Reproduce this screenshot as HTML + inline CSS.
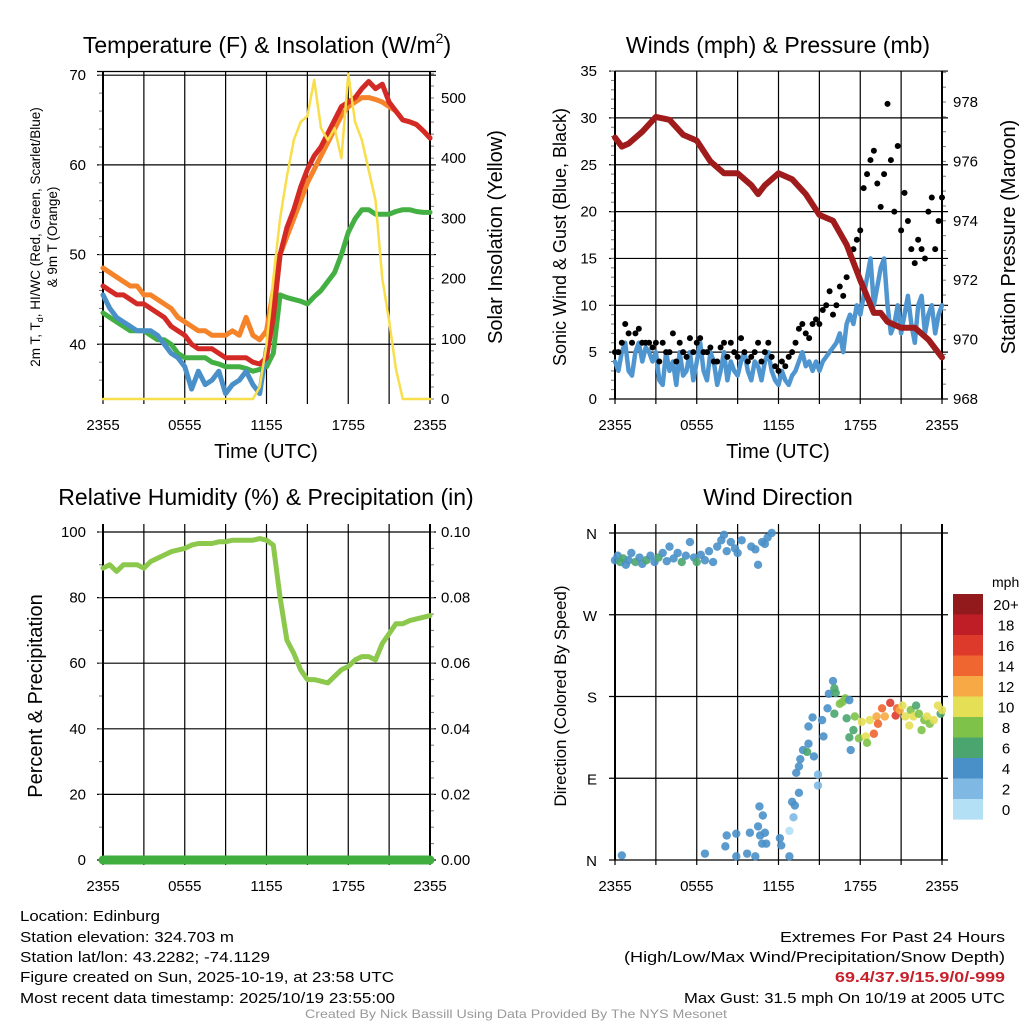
<!DOCTYPE html>
<html><head><meta charset="utf-8"><style>
html,body{margin:0;padding:0;background:#fff;}
svg{display:block;font-family:"Liberation Sans",sans-serif;}
</style></head><body>
<svg id="chart" width="1024" height="1024" viewBox="0 0 1024 1024" xmlns="http://www.w3.org/2000/svg"></svg>
<script>
// ---------- data ----------
const xTickLabels = ["2355","0555","1155","1755","2355"];
const tHours = [0,0.5,1,1.5,2,2.5,3,3.5,4,4.5,5,5.5,6,6.5,7,7.5,8,8.5,9,9.5,10,10.5,11,11.5,12,12.5,13,13.5,14,14.5,15,15.5,16,16.5,17,17.5,18,18.5,19,19.5,20,20.5,21,21.5,22,22.5,23,23.5,24];
const tempRed = [46.5,46,45.5,45.5,45,44.5,44.5,44,43.5,43,42,41.5,41,40,39.5,39.5,39.5,39,38.5,38.5,38.5,38.5,38,37.8,38.5,43,50,53,55,57.5,59.5,61,62,63.5,65,66.5,67,67.5,68.5,69.3,68.5,69,67,66,65,64.8,64.5,63.8,63];
const temp9m = [48.5,48,47.5,47,46.5,46.5,45.5,45.5,45,44.5,44,43,42.5,42,41.5,41.5,41,41,41,41.5,41,43,41,40.5,41.5,46,50,52,54,56,58,59.5,61,62.5,64,65.5,66.5,67,67.5,67.5,67.3,67,66.5,66,65,64.8,64.5,63.8,63];
const dewGreen = [43.5,43,42.5,42,41.5,41.5,41.5,41,40.5,40.5,40,39,38.5,38.5,38.5,38.5,38,37.8,37.5,37.5,37.5,37.3,37,37.2,37.5,39,45.5,45.2,45,44.8,44.5,45.3,46,47,48,50,52.5,54,55,55,54.5,54.5,54.5,54.8,55,55,54.8,54.7,54.7];
const hiwcHours = [0,0.5,1,1.5,2,2.5,3,3.5,4,4.5,5,5.5,6,6.5,7,7.5,8,8.5,9,9.5,10,10.5,11,11.5,12];
const hiwcBlue = [45.5,44,43,42.5,42,41.5,41.5,41.5,41,40,39,38.5,37.5,35,37,35.5,36,37,34.5,35.5,36,37,35.5,34.5,39.5];
const solar = [0,0,0,0,0,0,0,0,0,0,0,0,0,0,0,0,0,0,0,0,0,0,0,20,90,200,300,370,430,460,470,530,450,430,450,400,540,460,430,380,330,200,130,50,0,0,0,0,0];
const windHours = Array.from({length:97},(_, i)=>i*0.25);
const windSpd = [4,3,5,6,3,2.5,5,6,4,5.5,5,4,
5,2,1.5,5,3,4,1.5,5,2.5,3,5,2,
4,6,3,2,5,4,1.5,3,5,2,4,3,
2.5,4,5,3,2,4,3.5,2,4,5,3,2,
1.5,3,2,1.5,2.5,3,4,5,3.5,4,3,4,
3,4,4.5,5,5.5,6,7,5,8,9,8,10,
9,11,13,15,10,12,14,15,10,7,8,10,
7,9,11,8,6,10,11,7,9,10,7,9,
10];
const windGust = [5,5,6,8,7,6,7,7.5,6,6,6,5.5,
6,4,6,5,5,7,4,6,5,4.5,6.5,5,
6,6.5,5,5,5.5,4,4,5.5,6,4.5,6,5,
4.5,6.5,5,4,4.5,5,6,4,5,6,4.5,3.5,
3,4,3.5,4.5,5,6,7.5,8,7,6.5,8,8.5,
8,9.5,10,11.5,9,10,12,11,13,15.5,16,17,
18,22.5,24,25.5,26.5,23,20.5,24,31.5,25.5,20,27,
18,22,19,16,14.5,17,16,15,20,21.5,16,19,
21.5];
const presHours = [0,0.5,1,2,3,4,5,6,7,8,9,10,10.5,11,12,13,14,15,16,17,18,19,19.5,20,21,22,23,24];
const pressure = [976.8,976.5,976.6,977.0,977.5,977.4,976.9,976.7,976.0,975.6,975.6,975.2,974.9,975.2,975.6,975.4,974.9,974.2,974.0,973.2,972.0,970.9,970.9,970.6,970.4,970.4,970.0,969.4];
const rh = [89,90,88,90,90,90,89,91,92,93,94,94.5,95,96,96.5,96.5,96.5,97,97,97.5,97.5,97.5,97.5,98,97.5,96,80,67,63,58,55,55,54.5,54,56,58,59,61,62,62,61,66,69,72,72,73,73.5,74,74.5];
const precip = [0,0];
const precipHours = [0,24];
const dirHours = [0,0.2,0.4,0.6,0.8,1,1.2,1.5,1.8,2,2.3,2.6,2.9,3.2,3.5,3.8,4,4.3,4.6,4.9,5.2,5.5,5.8,6,6.3,6.6,6.9,7.2,7.5,7.8,8,8.2,8.5,8.8,9,9.3,10,10.3,10.5,10.8,11,11.2,11.5,0.5,
6.6,8.2,8.1,8.9,8.9,9.7,9.9,10.3,10.5,10.6,10.85,10.65,11,10.8,11.1,12.1,12.2,12.8,12.8,13.1,13,13.2,13.5,13.3,13.5,13.8,13.6,14.1,14.2,14.6,14.2,14.5,14.9,14.9,15.3,15.2,15.6,15.7,16,16.1,16.2,16.1,16.5,16.7,16.9,17.2,17,17.3,17.2,17.6,17.5,17.9,18.1,18.4,18.5,18.7,19,19.2,19.3,19.6,19.8,20.2,20.6,20.7,20.9,21.1,21.3,21.6,21.7,21.9,22.1,22.3,22.5,22.7,22.9,23.1,23.4,23.7,23.9,24];
const dirDeg = [330,335,328,332,325,330,338,328,333,326,330,335,328,333,338,329,345,332,338,328,335,350,333,328,336,330,340,328,345,352,358,340,350,343,338,352,345,342,325,350,348,355,360,5,
7,27,15,29,4,7,30,4,37,59,49,27,30,18,18,24,16,4,32,47,64,60,74,96,103,121,111,119,128,114,147,157,94,82,136,154,167,183,197,189,184,161,172,174,178,176,156,121,135,158,143,134,152,136,129,154,139,158,150,167,158,173,159,167,165,170,158,148,165,158,170,161,143,154,158,150,154,170,161,165];
const dirSpd = [4,3,5,6,4,4,3,6,4,4,5,4,4,6,3,4,3,4,4,5,4,3,4,6,4,4,4,4,3,4,3,4,3,3,3,3,3,4,4,3,3,3,3,3,
3,3,3,3,3,3,3,3,3,3,3,3,3,4,3,3,3,3,0,1,3,3,3,3,3,4,3,6,4,4,4,4,2,2,4,4,4,4,4,6,6,6,8,8,8,4,6,4,6,8,6,8,10,10,8,10,14,12,14,14,12,16,16,14,12,10,10,10,8,10,6,8,8,8,10,8,10,10,6,10];
const cbarLabels = ["20+","18","16","14","12","10","8","6","4","2","0"];
const cbarColors = ["#921a1c","#bf1e27","#de3a2b","#f06630","#f6a945","#e4df55","#7ec24a","#4aa66e","#4a90c8","#7fb9e3","#b3e0f5"];

// ---------- helpers ----------
const NS="http://www.w3.org/2000/svg";
const svg=document.getElementById('chart');
function el(tag,attrs,parent){const e=document.createElementNS(NS,tag);for(const k in attrs)e.setAttribute(k,attrs[k]);(parent||svg).appendChild(e);return e;}
function txt(s,x,y,size,anchor,parent,extra){const t=el('text',Object.assign({x:x,y:y,'font-size':size,'text-anchor':anchor||'start',fill:'#000'},extra||{}),parent);t.textContent=s;return t;}
function grp(name){const g=el('g',{});return g;}
const px=(x0,x1)=>h=>x0+(x1-x0)*h/24;

function drawFrame(g,x0,x1,yTop,yBot,hGridYs,leftTicks,rightTicks){
  for(let i=0;i<=8;i++){const x=x0+(x1-x0)*i/8;
    const l=el('line',{x1:x,y1:yTop,x2:x,y2:yBot+5,stroke:'#000','stroke-width':1.2},g);
    }
  hGridYs.forEach(y=>{const l=el('line',{x1:x0-6,y1:y,x2:x1+6,y2:y,stroke:'#000','stroke-width':1.2},g);
    });
  (leftTicks||[]).forEach(y=>el('line',{x1:x0-4,y1:y,x2:x0,y2:y,stroke:'#777','stroke-width':1},g));
  (rightTicks||[]).forEach(y=>el('line',{x1:x1,y1:y,x2:x1+4,y2:y,stroke:'#777','stroke-width':1},g));
  el('line',{x1:x0,y1:yTop,x2:x0,y2:yBot,stroke:'#000','stroke-width':2},g);
  el('line',{x1:x1,y1:yTop,x2:x1,y2:yBot,stroke:'#000','stroke-width':2},g);
}
function xLabels(g,x0,x1,y){xTickLabels.forEach((s,i)=>{const t=txt(s,x0+(x1-x0)*i/4,y,15,'middle',g);
  });}
function poly(g,hs,vs,fx,fy,color,w,name){
  const pts=hs.map((h,i)=>fx(h).toFixed(1)+','+fy(vs[i]).toFixed(1)).join(' ');
  const p=el('polyline',{points:pts,fill:'none',stroke:color,'stroke-width':w,'stroke-linejoin':'round','stroke-linecap':'round'},g);
  return p;}
function rotText(g,s,x,y,size,name){const t=txt(s,x,y,size,'middle',g,{transform:`rotate(-90 ${x} ${y})`});
  return t;}
function title(g,s,x,y,name){const t=txt(s,x,y,23,'middle',g);return t;}

// ---------- Panel 1: temperature ----------
{
 const g=grp('temperature-panel');
 const x0=103,x1=430,fx=px(x0,x1);
 const fy=v=>399-(v-33.9)*8.97;
 const fs=v=>399-v*0.602;
 const hg=[40,50,60,70].map(fy);
 const lt=[];for(let v=36;v<=70;v+=2)lt.push(fy(v));
 const rt=[];for(let v=0;v<=540;v+=20)rt.push(fs(v));
 drawFrame(g,x0,x1,71.5,399,hg.concat([71.5]),lt,rt);
 [40,50,60,70].forEach(v=>{const t=txt(String(v),86,fy(v)+5,15,'end',g);});
 [0,100,200,300,400,500].forEach(v=>{const t=txt(String(v),441,fs(v)+5,15,'start',g);});
 xLabels(g,x0,x1,430);
 const xt=txt('Time (UTC)',266,458,20,'middle',g);
 const tt=txt('',267,53,23,'middle',g);
 tt.innerHTML='Temperature (F) &amp; Insolation (W/m<tspan font-size="14" dy="-10">2</tspan><tspan dy="10">)</tspan>';
 const t1=txt('',40,237,13.5,'middle',g,{transform:'rotate(-90 40 237)'});
 
 t1.innerHTML='2m T, T<tspan font-size="9" dy="3">d</tspan><tspan dy="-3">, HI/WC (Red, Green, Scarlet/Blue)</tspan>';
 rotText(g,'& 9m T (Orange)',57,237,13.5,'left-y-axis-title-line2');
 rotText(g,'Solar Insolation (Yellow)',502,237,20,'right-y-axis-title');
 poly(g,tHours,dewGreen,fx,fy,'#44b044',5,'dewpoint-line');
 poly(g,hiwcHours,hiwcBlue,fx,fy,'#4a90c8',5,'heat-index-windchill-line');
 poly(g,tHours,temp9m,fx,fy,'#f5832a',5,'temp-9m-line');
 poly(g,tHours,tempRed,fx,fy,'#d42a26',5,'temp-2m-line');
 poly(g,tHours,solar,fx,fs,'#f8de4a',2.5,'solar-insolation-line');
}

// ---------- Panel 2: winds & pressure ----------
{
 const g=grp('winds-pressure-panel');
 const x0=615,x1=942,fx=px(x0,x1);
 const fy=v=>399-v*9.37;
 const fp=v=>399-(v-968)*29.7;
 const hg=[5,10,15,20,25,30,35].map(fy);
 const lt=[];for(let v=0;v<=35;v++)lt.push(fy(v));
 const rt=[];for(let v=968;v<=979;v+=0.5)rt.push(fp(v));
 drawFrame(g,x0,x1,71,399,hg,lt,rt);
 el('line',{x1:x0-6,y1:399,x2:x1+6,y2:399,stroke:'#000','stroke-width':1.2},g);
 [0,5,10,15,20,25,30,35].forEach(v=>{const t=txt(String(v),597,fy(v)+5,15,'end',g);});
 [968,970,972,974,976,978].forEach(v=>{const t=txt(String(v),953,fp(v)+5,15,'start',g);});
 xLabels(g,x0,x1,430);
 const xt=txt('Time (UTC)',778,458,20,'middle',g);
 title(g,'Winds (mph) & Pressure (mb)',778,53,'panel-title');
 rotText(g,'Sonic Wind & Gust (Blue, Black)',566,237,18,'left-y-axis-title');
 rotText(g,'Station Pressure (Maroon)',1015,237,20,'right-y-axis-title');
 poly(g,windHours,windSpd,fx,fy,'#4f96d0',4.5,'sustained-wind-line');
 windGust.forEach((v,i)=>{const c=el('circle',{cx:fx(windHours[i]),cy:fy(v),r:3,fill:'#000'},g);
   });
 poly(g,presHours,pressure,fx,fp,'#a01c1c',6,'pressure-line');
}

// ---------- Panel 3: RH & precip ----------
{
 const g=grp('humidity-precip-panel');
 const x0=103,x1=430,fx=px(x0,x1);
 const fy=v=>860-v*3.28;
 const fpr=v=>860-v*3280;
 const hg=[0,20,40,60,80,100].map(fy);
 const lt=[];for(let v=0;v<=100;v+=10)lt.push(fy(v));
 const rt=[];for(let v=0;v<=100;v+=5)rt.push(fy(v));
 drawFrame(g,x0,x1,524,860,hg,lt,rt);
 [0,20,40,60,80,100].forEach(v=>{const t=txt(String(v),86,fy(v)+5,15,'end',g);});
 ['0.00','0.02','0.04','0.06','0.08','0.10'].forEach((s,i)=>{const t=txt(s,441,fy(i*20)+5,15,'start',g);});
 xLabels(g,x0,x1,891);
 title(g,'Relative Humidity (%) & Precipitation (in)',266,505,'panel-title');
 rotText(g,'Percent & Precipitation',42,696,20,'left-y-axis-title');
 poly(g,tHours,rh,fx,fy,'#8cc84b',5,'relative-humidity-line');
 poly(g,precipHours,precip,fx,fpr,'#3fae3f',9,'precipitation-line');
}

// ---------- Panel 4: wind direction ----------
{
 const g=grp('wind-direction-panel');
 const x0=615,x1=942,fx=px(x0,x1);
 const fy=d=>860-d*(327/360);
 const hg=[0,90,180,270,360].map(fy);
 drawFrame(g,x0,x1,524,860,hg,[],[]);
 ['N','E','S','W','N'].forEach((s,i)=>{const t=txt(s,597,fy(i*90)+6,15,'end',g);});
 xLabels(g,x0,x1,891);
 title(g,'Wind Direction',778,505,'panel-title');
 rotText(g,'Direction (Colored By Speed)',566,696,17,'left-y-axis-title');
 const colorFor=s=>cbarColors[10-Math.min(10,Math.round(s/2))];
 dirDeg.forEach((d,i)=>{const c=el('circle',{cx:fx(dirHours[i]),cy:fy(d),r:4.2,fill:colorFor(dirSpd[i]),'fill-opacity':0.9},g);
   });
 const lg=grp('speed-colorbar');
 const u=txt('mph',992,587,14,'start',lg);
 cbarColors.forEach((c,i)=>{const r=el('rect',{x:953,y:594+i*20.5,width:30,height:20.6,fill:c},lg);
   
   const t=txt(cbarLabels[i],1006,594+i*20.5+16,15,'middle',lg);});
}

// ---------- footer text ----------
{
 const g=grp('station-info');
 const L=[["Location: Edinburg",140,921],["Station elevation: 324.703 m",214,942],["Station lat/lon: 43.2282; -74.1129",250,962],["Figure created on Sun, 2025-10-19, at 23:58 UTC",374,982],["Most recent data timestamp: 2025/10/19 23:55:00",375,1003]];
 L.forEach(a=>{const t=txt(a[0],20,a[2],15,'start',g,{textLength:a[1],lengthAdjust:'spacingAndGlyphs'});});
 const g2=grp('extremes-info');
 const R=[["Extremes For Past 24 Hours",225,942,'#000','normal'],["(High/Low/Max Wind/Precipitation/Snow Depth)",381,962,'#000','normal'],["69.4/37.9/15.9/0/-999",170,982,'#c8202a','bold'],["Max Gust: 31.5 mph On 10/19 at 2005 UTC",321,1003,'#000','normal']];
 R.forEach(a=>{const t=txt(a[0],1005-a[1],a[2],15,'start',g2,{textLength:a[1],lengthAdjust:'spacingAndGlyphs',fill:a[3],'font-weight':a[4]});});
 const f=txt('Created By Nick Bassill Using Data Provided By The NYS Mesonet',305,1018,12,'start',svg,{textLength:422,lengthAdjust:'spacingAndGlyphs',fill:'#999'});
 
}
</script>
</body></html>
